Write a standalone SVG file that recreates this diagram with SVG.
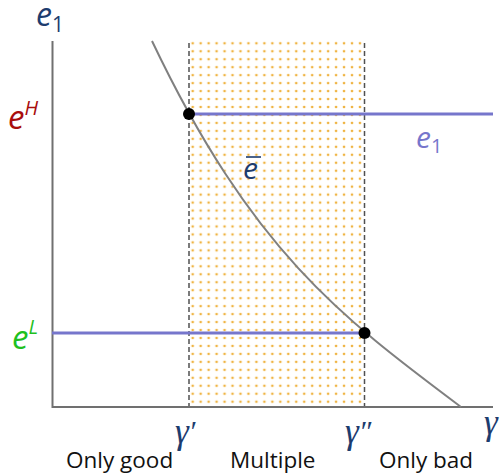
<svg xmlns="http://www.w3.org/2000/svg" width="500" height="476" viewBox="0 0 500 476">
  <style>
    .axis { stroke: #707070; stroke-width: 2; fill: none; }
    .dash { stroke: #505050; stroke-width: 1.5; stroke-dasharray: 5 3; fill: none; }
    .curve { stroke: #808080; stroke-width: 2; fill: none; }
    .eq { stroke: #7676cc; stroke-width: 3.2; fill: none; }
    .pt { fill: #000; }
    .math { font-family: "Open Sans", "DejaVu Sans", sans-serif; font-style: italic; }
    .gam { font-family: "Liberation Serif", "DejaVu Serif", serif; font-style: italic; }
    .lbl { font-family: "Open Sans", "Noto Sans", sans-serif; font-size: 22.5px; fill: #111; }
    .navy { fill: #1d3c6e; }
  </style>
  <defs>
    <pattern id="dots" patternUnits="userSpaceOnUse" x="188.7" y="39.3" width="7.965" height="7.965">
      <circle cx="4" cy="4" r="1.35" fill="#efb443"/>
    </pattern>
  </defs>
  <g id="region-multiple">
    <rect x="189" y="39" width="175" height="367" fill="url(#dots)"/>
  </g>
  <g id="axes">
    <line class="axis" x1="52.5" y1="41" x2="52.5" y2="408"/>
    <line class="axis" x1="52" y1="407" x2="493" y2="407"/>
  </g>
  <g id="connectors">
    <line class="dash" x1="189" y1="43" x2="189" y2="406"/>
    <line class="dash" x1="364.5" y1="43" x2="364.5" y2="406"/>
    <path id="ebar-curve" class="curve" d="M152,41 C252,251 341,317 461,407"/>
    <line id="e1-high" class="eq" x1="189" y1="114" x2="493" y2="114"/>
    <line id="e1-low" class="eq" x1="52" y1="333" x2="364" y2="333"/>
  </g>
  <g id="point-high"><circle class="pt" cx="189" cy="114" r="6"/></g>
  <g id="point-low"><circle class="pt" cx="364.5" cy="333" r="6"/></g>
  <g id="label-e1-axis">
    <text class="math navy" x="36" y="26" font-size="32">e<tspan font-style="normal" font-size="21" dy="6">1</tspan></text>
  </g>
  <g id="label-eH">
    <text class="math" x="8" y="129" font-size="33" fill="#a80d0d">e<tspan font-size="20" dy="-14">H</tspan></text>
  </g>
  <g id="label-eL">
    <text class="math" x="12" y="349" font-size="33" fill="#1fc01f">e<tspan font-size="20" dy="-15">L</tspan></text>
  </g>
  <g id="label-e1-line">
    <text class="math" x="416" y="148" font-size="30" fill="#7676cc">e<tspan font-style="normal" font-size="20" dy="5">1</tspan></text>
  </g>
  <g id="label-ebar">
    <text class="math navy" x="243" y="179" font-size="30">e</text>
    <line x1="246" y1="157" x2="261" y2="157" stroke="#1d3c6e" stroke-width="1.6"/>
  </g>
  <g id="label-gamma1">
    <text class="gam navy" x="175" y="443" font-size="35">γ<tspan font-size="30" dy="-2">′</tspan></text>
  </g>
  <g id="label-gamma2">
    <text class="gam navy" x="345" y="443" font-size="35">γ<tspan font-size="30" dy="-2">″</tspan></text>
  </g>
  <g id="label-gamma">
    <text class="gam navy" x="484" y="434" font-size="35">γ</text>
  </g>
  <g id="label-only-good"><text class="lbl" x="66" y="468">Only good</text></g>
  <g id="label-multiple"><text class="lbl" x="230" y="468">Multiple</text></g>
  <g id="label-only-bad"><text class="lbl" x="379" y="468">Only bad</text></g>
</svg>
